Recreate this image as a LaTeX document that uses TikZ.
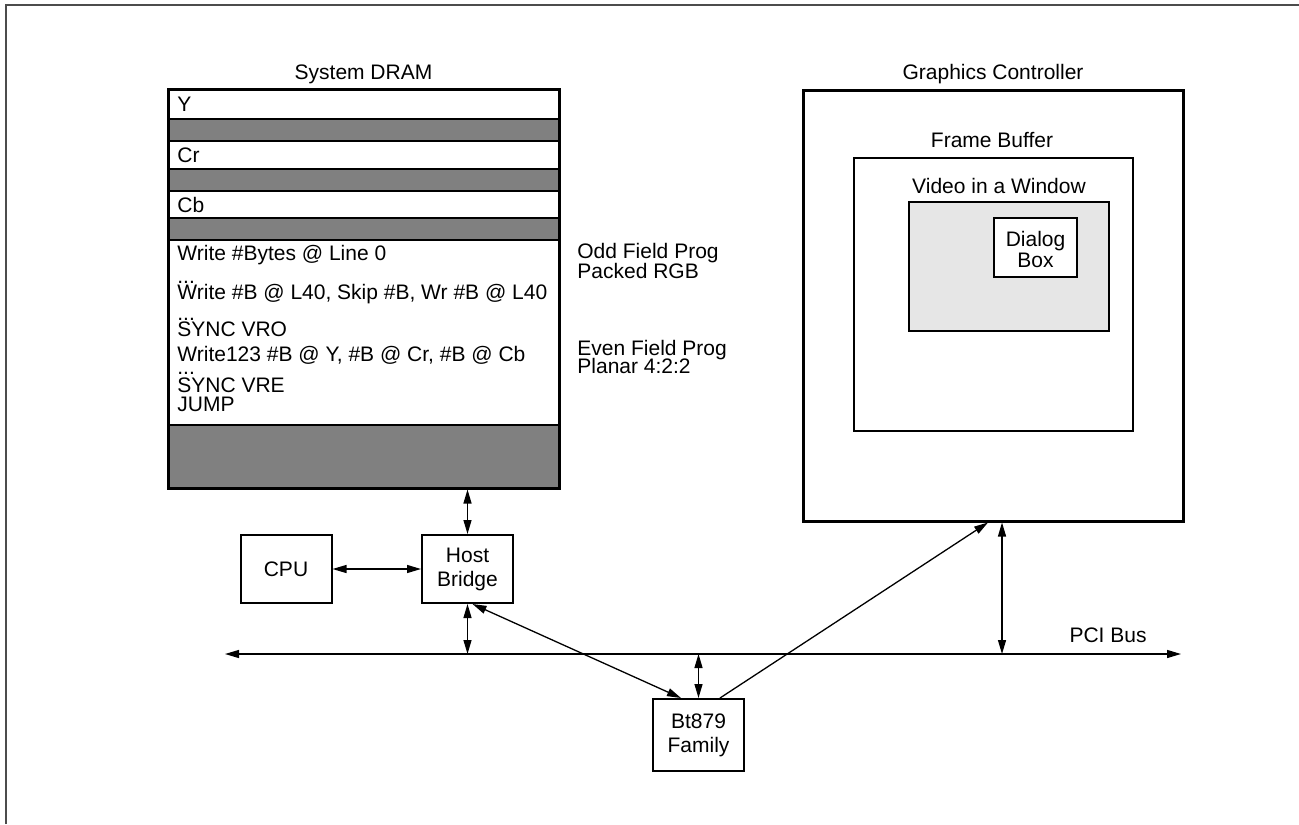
\documentclass[tikz,border=0pt]{standalone}
\usepackage{fontspec}
\setmainfont{Liberation Sans}
\usepackage{tikz}
\usetikzlibrary{arrows.meta,fit}
\newcommand{\thinw}{0.65pt}
\newcommand{\boxw}{1pt}
\newcommand{\heavyw}{1.5pt}
\definecolor{rowgray}{HTML}{808080}
\definecolor{wingray}{HTML}{E6E6E6}
\tikzset{
    every node/.style = {font = \fontsize{10.5}{12}\selectfont, inner sep = 0pt},
    UnitBox/.style = {draw, line width = \boxw, minimum width = 45.5pt, minimum height = 34pt, align = center},
    TwoWay/.style = {line width = \thinw, {Triangle[length=7pt,width=4pt]}-{Triangle[length=7pt,width=4pt]}},
    OneWay/.style = {line width = \thinw, -{Triangle[length=7pt,width=4pt]}},
    GrayRow/.style = {draw, line width = \thinw, fill = rowgray}
}

\begin{document}
\begin{tikzpicture}[x = 0.5pt, y = -0.5pt]
                %\draw[help lines] (0,0) grid[step=50] (1299,824);
                \useasboundingbox (0,0) rectangle (1299,824);
                \draw[line width = 0.75pt, black!70] (6,824) -- (6,5) -- (1299,5);

                \begin{scope}
                    \node[anchor = base] (dramlabel) at (363.5, 80) {System DRAM};
                    \draw[GrayRow] (168,119) rectangle (559,141);
                    \draw[GrayRow] (168,169) rectangle (559,191);
                    \draw[GrayRow] (168,218) rectangle (559,240);
                    \draw[GrayRow] (168,425) rectangle (559,488);
                    \node[draw, line width = \heavyw, fit = {(168,90) (559,488)}] (dram) {};
                    \node[anchor = base west] (rowy) at (177, 112) {Y};
                    \node[anchor = base west] (rowcr) at (177, 162) {Cr};
                    \node[anchor = base west] (rowcb) at (177, 212) {Cb};
                    \node[anchor = base west] (prog1) at (177, 260) {Write \#Bytes @ Line 0};
                    \node[anchor = base west] (dots1) at (177, 283) {...};
                    \node[anchor = base west] (prog2) at (177, 299) {Write \#B @ L40, Skip \#B, Wr \#B @ L40};
                    \node[anchor = base west] (dots2) at (177, 320) {...};
                    \node[anchor = base west] (prog3) at (177, 336) {SYNC VRO};
                    \node[anchor = base west] (prog4) at (177, 361) {Write123 \#B @ Y, \#B @ Cr, \#B @ Cb};
                    \node[anchor = base west] (dots3) at (177, 374) {...};
                    \node[anchor = base west] (prog5) at (177, 392) {SYNC VRE};
                    \node[anchor = base west] (prog6) at (177, 411) {JUMP};
                \end{scope}

                \node[anchor = base west] (odd1) at (577, 258) {Odd Field Prog};
                \node[anchor = base west] (odd2) at (577, 278) {Packed RGB};
                \node[anchor = base west] (even1) at (577, 355) {Even Field Prog};
                \node[anchor = base west] (even2) at (577, 373) {Planar 4:2:2};

                \begin{scope}
                    \node[anchor = base] (gclabel) at (993, 80) {Graphics Controller};
                    \node[draw, line width = \heavyw, fit = {(803,91) (1183,521)}] (gc) {};
                    \node[anchor = base] (fblabel) at (992, 148) {Frame Buffer};
                    \node[draw, line width = \thinw, fit = {(854,158) (1133,431)}] (fb) {};
                    \node[anchor = base] (vwlabel) at (999, 193) {Video in a Window};
                    \node[draw, line width = 0.8pt, fill = wingray, fit = {(909,202) (1109,331)}] (vw) {};
                    \node[draw, line width = 0.8pt, fill = white, fit = {(994,218) (1077,277)}] (dlg) {};
                    \node[anchor = base] (dlgtop) at (1035.5, 246) {Dialog};
                    \node[anchor = base] (dlgbot) at (1035.5, 267) {Box};
                \end{scope}

                \node[UnitBox] (cpu) at (286, 569) {CPU};
                \node[UnitBox] (host) at (467.5, 569) {Host\\Bridge};
                \node[UnitBox, minimum height = 36pt] (bt) at (698.5, 735) {Bt879\\Family};

                \coordinate (busl) at (225, 654);
                \coordinate (busr) at (1181, 654);
                \draw[TwoWay] (busl) -- (busr);
                \node[anchor = base] (pcilabel) at (1108, 642) {PCI Bus};

                \draw[TwoWay] (cpu) -- (host);
                \draw[TwoWay] (dram.south -| host.south) -- (host.north);
                \draw[TwoWay] (host.south) -- (host.south |- busl);
                \draw[TwoWay] (bt.north) -- (bt.north |- busl);
                \draw[TwoWay] ([xshift = 2.5pt]host.south) -- ([xshift = -8.75pt]bt.north);
                \draw[OneWay] ([xshift = 10.75pt]bt.north) -- ([xshift = -2.5pt]gc.south);
                \draw[TwoWay] ([xshift = 4.5pt]gc.south) -- ([xshift = 4.5pt]gc.south |- busl);
\end{tikzpicture}
\end{document}
